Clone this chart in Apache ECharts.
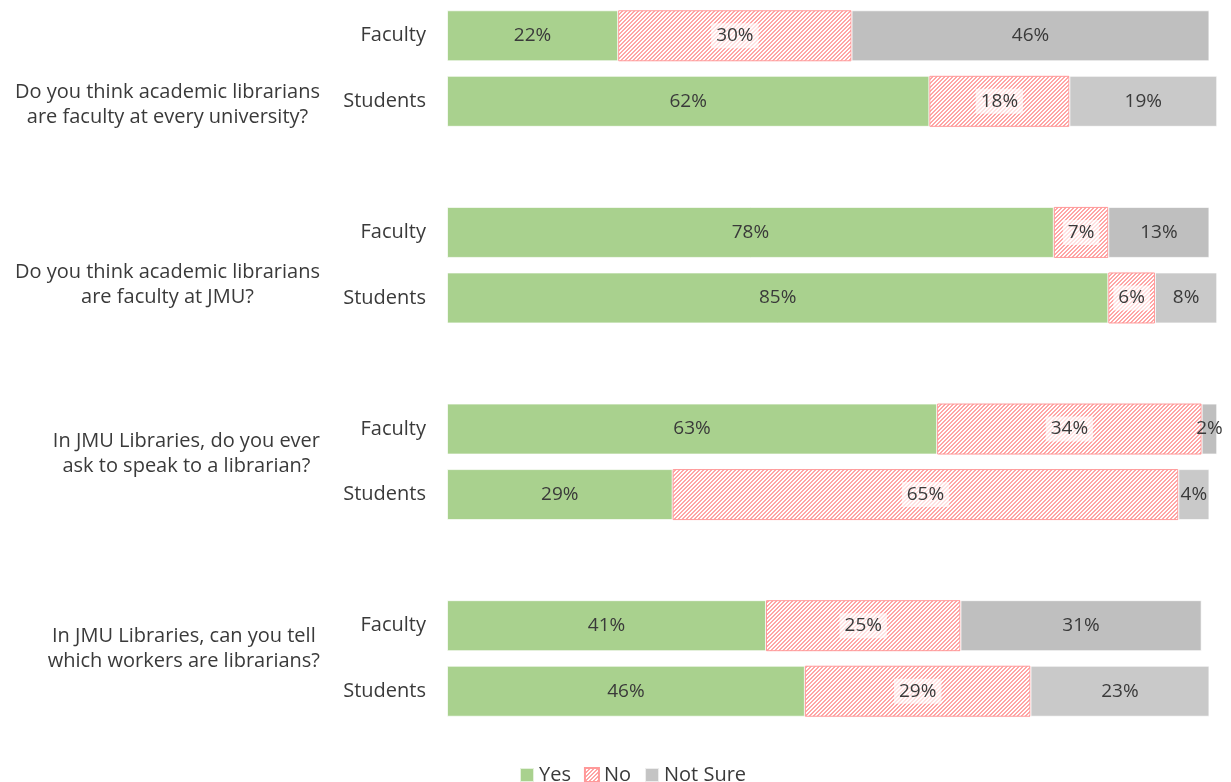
<!DOCTYPE html>
<html>
<head>
<meta charset="utf-8">
<script src="https://cdn.jsdelivr.net/npm/echarts@6/dist/echarts.min.js"></script>
<style>
  html, body { margin: 0; padding: 0; background: #fff; }
  #chart { width: 1231px; height: 782px; }
</style>
</head>
<body>
<div id="chart"></div>
<script>
const questions = [
  "Do you think academic librarians\nare faculty at every university?",
  "Do you think academic librarians\nare faculty at JMU?",
  "In JMU Libraries, do you ever\nask to speak to a librarian?",
  "In JMU Libraries, can you tell\nwhich workers are librarians?"
];
const groups = ["Faculty", "Students"];
// one value per bar, in order Q1 Faculty, Q1 Students, Q2 Faculty, ...
const yesValues = [22, 62, 78, 85, 63, 29, 41, 46];
const noValues = [30, 18, 7, 6, 34, 65, 25, 29];
const notSureValues = [46, 19, 13, 8, 2, 4, 31, 23];

const FONT = "'Open Sans', sans-serif";
const TEXT = "#3a3a3a";
const greyByGroup = { Faculty: "#BFBFBF", Students: "#C9C9C9" };
// vertical nudge of each question text from the middle of its two bars
const questionShift = [36, 20, -8, -10];

// hatched fill for "No"
const makeHatch = () => {
  const c = document.createElement("canvas");
  c.width = 8;
  c.height = 8;
  const ctx = c.getContext("2d");
  const img = ctx.createImageData(8, 8);
  for (let y = 0; y < 8; y++) {
    for (let x = 0; x < 8; x++) {
      const i = (y * 8 + x) * 4;
      const red = (x + y) % 4 < 2;
      img.data[i] = 255;
      img.data[i + 1] = red ? 165 : 255;
      img.data[i + 2] = red ? 165 : 255;
      img.data[i + 3] = 255;
    }
  }
  ctx.putImageData(img, 0, 0);
  return c;
};
const hatch = { image: makeHatch(), repeat: "repeat" };

// slots: Faculty, Students, (gap), Faculty, Students, (gap) ...
const categories = [];
const slotOf = [];
questions.forEach((q, qi) => {
  groups.forEach((g) => {
    slotOf.push(categories.length);
    categories.push(g);
  });
  if (qi < questions.length - 1) categories.push("");
});

const toSlots = (values, withGrey) => {
  const out = categories.map(() => "-");
  values.forEach((v, i) => {
    const g = groups[i % groups.length];
    out[slotOf[i]] = withGrey ? { value: v, itemStyle: { color: greyByGroup[g] } } : v;
  });
  return out;
};

const chart = echarts.init(document.getElementById("chart"));

const barLabel = {
  show: true,
  position: "inside",
  formatter: "{c}%",
  color: TEXT,
  fontFamily: FONT,
  fontSize: 19
};

chart.setOption({
  animation: false,
  textStyle: { fontFamily: FONT },
  grid: { left: 447, right: 6, top: 3, bottom: 58 },
  xAxis: {
    type: "value",
    min: 0,
    max: 100,
    show: false
  },
  yAxis: {
    type: "category",
    inverse: true,
    data: categories,
    axisLine: { show: false },
    axisTick: { show: false },
    axisLabel: { color: TEXT, fontFamily: FONT, fontSize: 20, margin: 21 }
  },
  legend: {
    left: 514,
    top: 760,
    icon: "rect",
    itemWidth: 14,
    itemHeight: 14,
    itemGap: 13,
    textStyle: { color: TEXT, fontFamily: FONT, fontSize: 20 },
    data: ["Yes", "No", "Not Sure"]
  },
  series: [
    {
      name: "Yes",
      type: "bar",
      stack: "all",
      barWidth: 51,
      data: toSlots(yesValues, false),
      itemStyle: { color: "#A9D18E", borderColor: "rgba(255,255,255,0.7)", borderWidth: 1 },
      label: barLabel
    },
    {
      name: "No",
      type: "bar",
      stack: "all",
      barWidth: 51,
      data: toSlots(noValues, false),
      itemStyle: { color: hatch, borderColor: "#FF9999", borderWidth: 1 },
      label: Object.assign({}, barLabel, {
        backgroundColor: "rgba(255,255,255,0.65)",
        padding: [3, 5]
      })
    },
    {
      name: "Not Sure",
      type: "bar",
      stack: "all",
      barWidth: 51,
      data: toSlots(notSureValues, true),
      itemStyle: { color: "#C4C4C4", borderColor: "rgba(255,255,255,0.7)", borderWidth: 1 },
      label: barLabel
    }
  ]
});

// question texts: right-aligned block, centred lines, next to each pair of bars
const measure = document.createElement("canvas").getContext("2d");
measure.font = "20px 'Open Sans'";
const graphics = questions.map((q, qi) => {
  const lines = q.split("\n");
  const w = Math.max(...lines.map((l) => measure.measureText(l).width));
  const yF = chart.convertToPixel({ yAxisIndex: 0 }, slotOf[qi * 2]);
  const yS = chart.convertToPixel({ yAxisIndex: 0 }, slotOf[qi * 2 + 1]);
  return {
    type: "text",
    x: 320 - w / 2,
    y: (yF + yS) / 2 + questionShift[qi],
    style: {
      text: q,
      fill: TEXT,
      font: "20px 'Open Sans', sans-serif",
      align: "center",
      verticalAlign: "middle",
      lineHeight: 25
    }
  };
});
chart.setOption({ graphic: graphics });
</script>
</body>
</html>
